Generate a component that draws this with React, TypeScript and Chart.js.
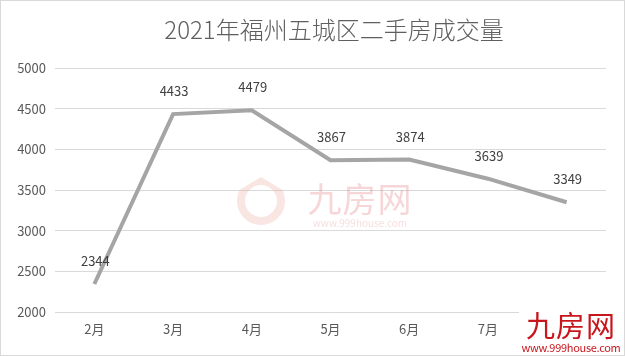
import React, { useEffect, useRef } from "react";
import { Chart, registerables } from "chart.js";

Chart.register(...registerables);

const TITLE = "2021年福州五城区二手房成交量";
const MONTHS = ["2月", "3月", "4月", "5月", "6月", "7月", "8月"];
const VOLUMES = [2344, 4433, 4479, 3867, 3874, 3639, 3349];
const Y_MIN = 2000;
const Y_MAX = 5000;
const Y_STEP = 500;

const FONT = "'Noto Sans CJK SC', 'Noto Sans', sans-serif";

export default function App() {
  const ref = useRef<HTMLCanvasElement | null>(null);

  useEffect(() => {
    document.body.style.margin = "0";
    const canvas = ref.current;
    if (!canvas) return;

    const titlePlugin = {
      id: "customTitle",
      afterDraw(chart: any) {
        const ctx = chart.ctx;
        ctx.save();
        ctx.font = `300 24px ${FONT}`;
        ctx.fillStyle = "#5f5f5f";
        ctx.textAlign = "center";
        ctx.textBaseline = "middle";
        ctx.fillText(TITLE, 333, 29);
        ctx.restore();
      },
    };

    const labelPlugin = {
      id: "dataLabels",
      afterDatasetsDraw(chart: any) {
        const ctx = chart.ctx;
        const meta = chart.getDatasetMeta(0);
        ctx.save();
        ctx.font = `400 13px ${FONT}`;
        ctx.fillStyle = "#404040";
        ctx.textAlign = "center";
        ctx.textBaseline = "middle";
        meta.data.forEach((pt: any, i: number) => {
          ctx.fillText(String(VOLUMES[i]), pt.x + 1, pt.y - 23);
        });
        ctx.restore();
      },
    };

    const chart = new Chart(canvas, {
      type: "line",
      data: {
        labels: MONTHS,
        datasets: [
          {
            data: VOLUMES,
            borderColor: "#a5a5a5",
            borderWidth: 4,
            pointRadius: 0,
            tension: 0,
            fill: false,
          },
        ],
      },
      options: {
        responsive: false,
        animation: false,
        layout: { padding: { left: 0, right: 18, top: 67, bottom: 12 } },
        plugins: {
          legend: { display: false },
          title: { display: false },
          tooltip: { enabled: false },
        },
        scales: {
          x: {
            offset: true,
            grid: { display: false, drawTicks: false },
            border: { display: false },
            ticks: {
              color: "#595959",
              font: { family: FONT, size: 13 },
              padding: 9,
              maxRotation: 0,
            },
            afterFit(scale: any) {
              scale.height = 31;
            },
          },
          y: {
            min: Y_MIN,
            max: Y_MAX,
            grid: { color: "#d9d9d9", lineWidth: 1, drawTicks: false },
            border: { display: false },
            ticks: {
              stepSize: Y_STEP,
              color: "#595959",
              font: { family: FONT, size: 13 },
              padding: 9,
              callback: (v: any) => String(v),
            },
            afterFit(scale: any) {
              scale.width = 54;
            },
          },
        },
      },
      plugins: [titlePlugin, labelPlugin],
    });

    return () => chart.destroy();
  }, []);

  return (
    <div
      style={{
        position: "relative",
        width: 625,
        height: 356,
        boxSizing: "border-box",
        border: "1px solid #d9d9d9",
        background: "#fff",
        overflow: "hidden",
      }}
    >
      <canvas ref={ref} width={623} height={354} style={{ display: "block" }} />
      <div
        style={{
          position: "absolute",
          left: 232,
          top: 176,
          width: 56,
          height: 52,
          pointerEvents: "none",
        }}
      >
        <div
          style={{
            position: "absolute",
            left: 4,
            top: 0,
            width: 48,
            height: 48,
            borderRadius: "50% 50% 50% 50%",
            border: "8px solid rgba(235,160,150,0.28)",
            boxSizing: "border-box",
            clipPath: "polygon(0 30%, 50% 0, 100% 30%, 100% 100%, 0 100%)",
          }}
        />
      </div>
      <div
        style={{
          position: "absolute",
          left: 298,
          top: 178,
          width: 122,
          textAlign: "center",
          color: "rgba(225,120,120,0.3)",
          fontFamily: FONT,
          pointerEvents: "none",
        }}
      >
        <div style={{ fontSize: 34, lineHeight: "38px", letterSpacing: 1 }}>九房网</div>
        <div style={{ fontSize: 10, lineHeight: "12px", color: "rgba(225,120,120,0.25)" }}>www.999house.com</div>
      </div>
      <div
        style={{
          position: "absolute",
          left: 518,
          top: 306,
          width: 104,
          height: 48,
          background: "#fff",
          textAlign: "center",
          color: "#c8161d",
          fontFamily: FONT,
        }}
      >
        <div style={{ fontSize: 29, lineHeight: "34px", letterSpacing: 1 }}>九房网</div>
        <div style={{ fontSize: 11, lineHeight: "12px", letterSpacing: -0.3 }}>www.999house.com</div>
      </div>
    </div>
  );
}
